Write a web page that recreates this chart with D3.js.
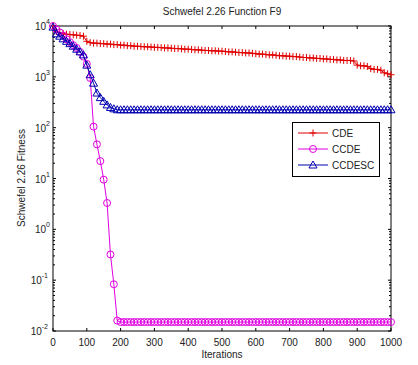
<!DOCTYPE html>
<html>
<head>
<meta charset="utf-8">
<script src="https://cdn.jsdelivr.net/npm/d3@7"></script>
<style>
  body { margin: 0; background: #fff; }
  svg text { font-family: "Liberation Sans", Arial, sans-serif; fill: #222; }
</style>
</head>
<body>
<script>
// iterations sampled every 10 steps
const iterations = d3.range(0, 1001, 10);

const cde = [10000, 7800, 7400, 7100, 6900, 6800, 6700, 6600, 6500, 6300,
  5000, 4700, 4600, 4600, 4500, 4500, 4400, 4400, 4300, 4300,
  4200, 4200, 4100, 4100, 4000, 4000, 3950, 3900, 3900, 3850,
  3800, 3800, 3750, 3700, 3700, 3650, 3600, 3600, 3550, 3500,
  3500, 3450, 3400, 3400, 3350, 3300, 3300, 3250, 3250, 3200,
  3200, 3150, 3100, 3100, 3050, 3000, 3000, 2950, 2950, 2900,
  2850, 2800, 2800, 2750, 2700, 2700, 2650, 2600, 2600, 2550,
  2550, 2500, 2500, 2450, 2400, 2400, 2350, 2350, 2300, 2300,
  2250, 2250, 2200, 2200, 2150, 2150, 2100, 2100, 2100, 2050,
  1700, 1650, 1650, 1600, 1450, 1400, 1400, 1350, 1200, 1150,
  1100];

const ccde = [10000, 8500, 7500, 6500, 5500, 4800, 4200, 3700, 3100, 2500,
  1800, 950, 105, 47, 22, 9.5, 3.3, 0.32, 0.083, 0.016,
  0.015, 0.015, 0.015, 0.015, 0.015, 0.015, 0.015, 0.015, 0.015, 0.015,
  0.015, 0.015, 0.015, 0.015, 0.015, 0.015, 0.015, 0.015, 0.015, 0.015,
  0.015, 0.015, 0.015, 0.015, 0.015, 0.015, 0.015, 0.015, 0.015, 0.015,
  0.015, 0.015, 0.015, 0.015, 0.015, 0.015, 0.015, 0.015, 0.015, 0.015,
  0.015, 0.015, 0.015, 0.015, 0.015, 0.015, 0.015, 0.015, 0.015, 0.015,
  0.015, 0.015, 0.015, 0.015, 0.015, 0.015, 0.015, 0.015, 0.015, 0.015,
  0.015, 0.015, 0.015, 0.015, 0.015, 0.015, 0.015, 0.015, 0.015, 0.015,
  0.015, 0.015, 0.015, 0.015, 0.015, 0.015, 0.015, 0.015, 0.015, 0.015,
  0.015];

const ccdesc = [9500, 7000, 6300, 5600, 5000, 4500, 4000, 3500, 3100, 2700,
  1700, 1100, 750, 480, 390, 330, 280, 250, 235, 225,
  225, 225, 225, 225, 225, 225, 225, 225, 225, 225,
  225, 225, 225, 225, 225, 225, 225, 225, 225, 225,
  225, 225, 225, 225, 225, 225, 225, 225, 225, 225,
  225, 225, 225, 225, 225, 225, 225, 225, 225, 225,
  225, 225, 225, 225, 225, 225, 225, 225, 225, 225,
  225, 225, 225, 225, 225, 225, 225, 225, 225, 225,
  225, 225, 225, 225, 225, 225, 225, 225, 225, 225,
  225, 225, 225, 225, 225, 225, 225, 225, 225, 225,
  225];

const seriesNames = ['CDE', 'CCDE', 'CCDESC'];
const xTicks = d3.range(0, 1001, 100);
const yExponents = [-2, -1, 0, 1, 2, 3, 4];

const width = 418, height = 365;
const pLeft = 53, pRight = 391, pTop = 26, pBottom = 331;

const svg = d3.select('body').append('svg')
  .attr('width', width).attr('height', height);

const x = d3.scaleLinear().domain([0, 1000]).range([pLeft, pRight]);
const y = d3.scaleLog().domain([1e-2, 1e4]).range([pBottom, pTop]);

// axes box
svg.append('rect')
  .attr('x', pLeft).attr('y', pTop)
  .attr('width', pRight - pLeft).attr('height', pBottom - pTop)
  .attr('fill', '#fff').attr('stroke', '#000').attr('stroke-width', 1);

// x ticks (inward, top and bottom)
const gx = svg.append('g');
xTicks.forEach(t => {
  gx.append('line').attr('x1', x(t)).attr('x2', x(t)).attr('y1', pBottom).attr('y2', pBottom - 3)
    .attr('stroke', '#000');
  gx.append('line').attr('x1', x(t)).attr('x2', x(t)).attr('y1', pTop).attr('y2', pTop + 3)
    .attr('stroke', '#000');
  gx.append('text').attr('x', x(t)).attr('y', pBottom + 15)
    .attr('text-anchor', 'middle').attr('font-size', 10).text(t);
});

// y ticks (major + minor, inward, left and right)
const gy = svg.append('g');
yExponents.forEach(e => {
  const v = Math.pow(10, e);
  gy.append('line').attr('x1', pLeft).attr('x2', pLeft + 3).attr('y1', y(v)).attr('y2', y(v)).attr('stroke', '#000');
  gy.append('line').attr('x1', pRight).attr('x2', pRight - 3).attr('y1', y(v)).attr('y2', y(v)).attr('stroke', '#000');
  if (e < 4) {
    for (let k = 2; k <= 9; k++) {
      const mv = k * v;
      gy.append('line').attr('x1', pLeft).attr('x2', pLeft + 2).attr('y1', y(mv)).attr('y2', y(mv)).attr('stroke', '#000');
      gy.append('line').attr('x1', pRight).attr('x2', pRight - 2).attr('y1', y(mv)).attr('y2', y(mv)).attr('stroke', '#000');
    }
  }
  const lbl = gy.append('text').attr('x', pLeft - 3 - (e < 0 ? 2 : 0)).attr('y', y(v) + 4)
    .attr('text-anchor', 'end').attr('font-size', 10);
  lbl.append('tspan').text('10');
  lbl.append('tspan').attr('dy', -6).attr('font-size', 7).text(e);
});

// title and labels
svg.append('text').attr('x', 222).attr('y', 15).attr('text-anchor', 'middle')
  .attr('font-size', 10).text('Schwefel 2.26 Function F9');
svg.append('text').attr('x', 222).attr('y', 358).attr('text-anchor', 'middle')
  .attr('font-size', 10).text('Iterations');
svg.append('text').attr('transform', 'translate(25,178) rotate(-90)').attr('text-anchor', 'middle')
  .attr('font-size', 10).text('Schwefel 2.26 Fitness');

const series = [
  { name: seriesNames[0], values: cde, color: '#e00000', marker: 'plus' },
  { name: seriesNames[1], values: ccde, color: '#e000e0', marker: 'circle' },
  { name: seriesNames[2], values: ccdesc, color: '#0000b0', marker: 'triangle' }
];

const line = d3.line().x((d, i) => x(iterations[i])).y(d => y(d));

function drawMarker(g, cx, cy, kind, color) {
  if (kind === 'plus') {
    g.append('path').attr('d', `M${cx - 3.5},${cy}H${cx + 3.5}M${cx},${cy - 3.5}V${cy + 3.5}`)
      .attr('stroke', color).attr('stroke-width', 1).attr('fill', 'none');
  } else if (kind === 'circle') {
    g.append('circle').attr('cx', cx).attr('cy', cy).attr('r', 3.5)
      .attr('stroke', color).attr('fill', 'none');
  } else {
    g.append('path').attr('d', `M${cx},${cy - 4}L${cx + 4},${cy + 3}L${cx - 4},${cy + 3}Z`)
      .attr('stroke', color).attr('fill', 'none');
  }
}

const plot = svg.append('g');
series.forEach(s => {
  plot.append('path').datum(s.values).attr('d', line)
    .attr('fill', 'none').attr('stroke', s.color).attr('stroke-width', 1);
  const mg = plot.append('g');
  s.values.forEach((v, i) => drawMarker(mg, x(iterations[i]), y(v), s.marker, s.color));
});

// legend
const lg = svg.append('g');
lg.append('rect').attr('x', 292.5).attr('y', 122.5).attr('width', 87).attr('height', 54)
  .attr('fill', '#fff').attr('stroke', '#000');
series.forEach((s, i) => {
  const ly = 133 + i * 16;
  lg.append('line').attr('x1', 298).attr('x2', 328).attr('y1', ly).attr('y2', ly)
    .attr('stroke', s.color);
  drawMarker(lg, 313, ly, s.marker, s.color);
  lg.append('text').attr('x', 332).attr('y', ly + 4).attr('font-size', 10).text(s.name);
});
</script>
</body>
</html>
